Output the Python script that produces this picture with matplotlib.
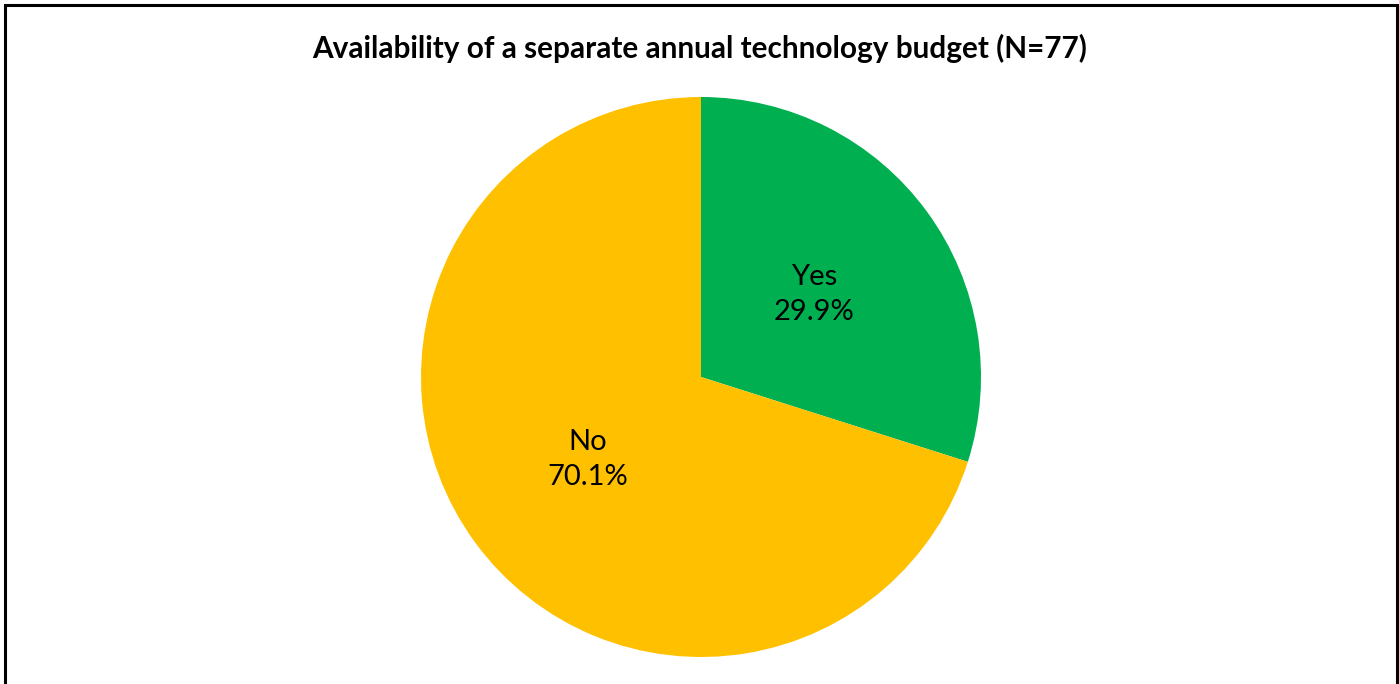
import matplotlib
matplotlib.use("Agg")
import matplotlib.pyplot as plt
from matplotlib.patches import Rectangle

# donnees
categories = ["Yes", "No"]
values = [29.9, 70.1]
colors = ["#00B050", "#FFC000"]
title = "Availability of a separate annual technology budget (N=77)"

plt.rcParams['font.family'] = ['Lato', 'DejaVu Sans']

fig = plt.figure(figsize=(13.99, 6.84), dpi=100)
ax = fig.add_axes([0, 0, 1, 1])

labels = [c + "\n" + str(v) + "%" for c, v in zip(categories, values)]
wedges, texts = ax.pie(values, labels=labels, colors=colors, startangle=90,
                       counterclock=False, center=(701, 307), radius=280,
                       labeldistance=0.5, frame=True,
                       textprops=dict(fontsize=21, ha='center', va='center',
                                      linespacing=1.4))
ax.set_xlim(0, 1399)
ax.set_ylim(0, 684)
ax.set_aspect('equal')
ax.axis('off')

# cadre
fig.patches.append(Rectangle((5 / 1399, -0.05), 1392 / 1399, 1.05 - 5 / 684,
                             transform=fig.transFigure, fill=False,
                             edgecolor='black', linewidth=2.2))

fig.text(700 / 1399, 1 - 48 / 684, title, ha='center', va='center',
         fontsize=21.4, fontweight='bold')

fig.savefig("out.png", dpi=100)
